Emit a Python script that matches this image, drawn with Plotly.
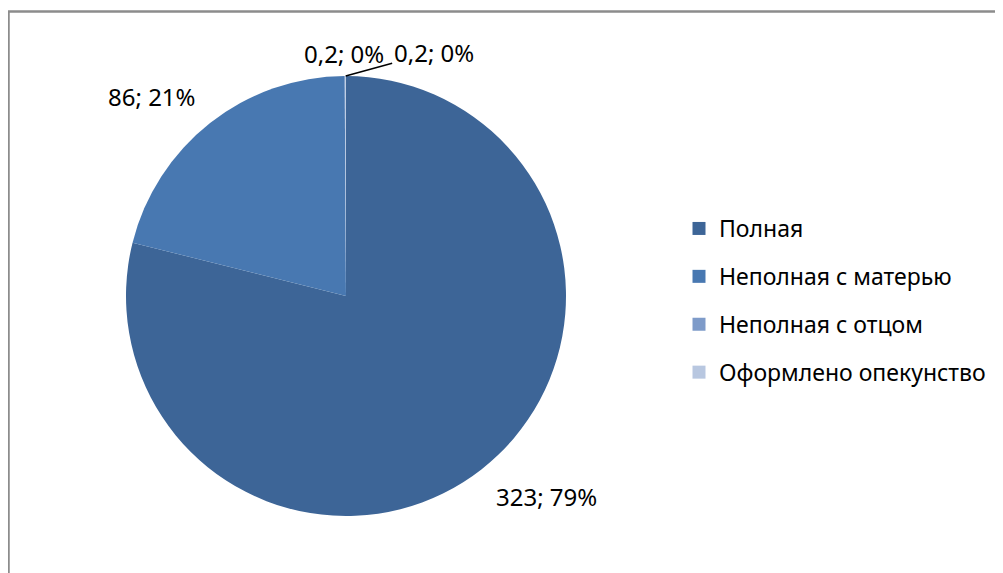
import math
import plotly.graph_objects as go

categories = ["Полная", "Неполная с матерью", "Неполная с отцом", "Оформлено опекунство"]
values = [323, 86, 0.2, 0.2]
colors = ["#3D6597", "#4878B1", "#7E9BC9", "#B8C7E0"]

W, H = 1003, 573
OFF = 8  # page body margin
CX, CY, R = 346 - OFF, 296 - OFF, 220

total = sum(values)

def fmt(v):
    s = ("%g" % v).replace(".", ",")
    return f"{s}; {round(v / total * 100)}%"

fig = go.Figure()
fig.add_trace(go.Pie(
    labels=categories, values=values, sort=False, direction="clockwise", rotation=0,
    marker=dict(colors=colors, line=dict(width=0)),
    textinfo="none", hoverinfo="label+value+percent", showlegend=False,
    domain=dict(x=[(CX - R) / W, (CX + R) / W], y=[1 - (CY + R) / H, 1 - (CY - R) / H]),
))

# legend entries
for c, col in zip(categories, colors):
    fig.add_trace(go.Scatter(x=[None], y=[None], mode="markers", name=c, legendgroup=c,
                             marker=dict(symbol="square", size=13, color=col),
                             showlegend=True, hoverinfo="skip"))

LBL = 24
annotations = []
cum = 0
for i, v in enumerate(values):
    mid = (cum + v / 2) / total * 2 * math.pi
    cum += v
    s, c = math.sin(mid), math.cos(mid)
    if v / total > 0.05:
        px = CX + 1.09 * R * s
        py = CY - 1.155 * R * c
        annotations.append(dict(x=px / W, y=1 - py / H, xref="paper", yref="paper",
                                xanchor="left" if s > 0 else "right",
                                yanchor="middle",
                                text=fmt(v), showarrow=False,
                                font=dict(size=LBL, color="black")))
    else:
        ex = CX + R * s
        ey = CY - R * c
        if i == 2:
            annotations.append(dict(x=(ex - 1) / W, y=1 - (ey - 23) / H, xref="paper", yref="paper",
                                    xanchor="center", yanchor="middle",
                                    text=fmt(v), showarrow=False,
                                    font=dict(size=LBL, color="black")))
        else:
            annotations.append(dict(x=ex / W, y=1 - ey / H, xref="paper", yref="paper",
                                    ax=88, ay=-24, axref="pixel", ayref="pixel",
                                    text=fmt(v), showarrow=True, arrowhead=0,
                                    arrowwidth=1.5, arrowcolor="black",
                                    font=dict(size=LBL, color="black")))

fig.update_layout(
    width=W, height=H,
    margin=dict(l=0, r=0, t=0, b=0),
    paper_bgcolor="white", plot_bgcolor="white",
    font=dict(family="Noto Sans", size=23, color="black"),
    xaxis=dict(visible=False), yaxis=dict(visible=False),
    legend=dict(x=(679 - OFF) / W, y=1 - (207 - OFF) / H, xanchor="left", yanchor="top",
                tracegroupgap=15, itemsizing="trace",
                font=dict(size=23, color="black"), bgcolor="rgba(0,0,0,0)"),
    annotations=annotations,
    shapes=[dict(type="rect", xref="paper", yref="paper",
                 x0=0.5 / W, x1=1.02, y0=-0.02, y1=1 - 3.5 / H,
                 line=dict(color="#8C8C8C", width=2.5), fillcolor="rgba(0,0,0,0)")],
)

fig.write_html("out.html")
